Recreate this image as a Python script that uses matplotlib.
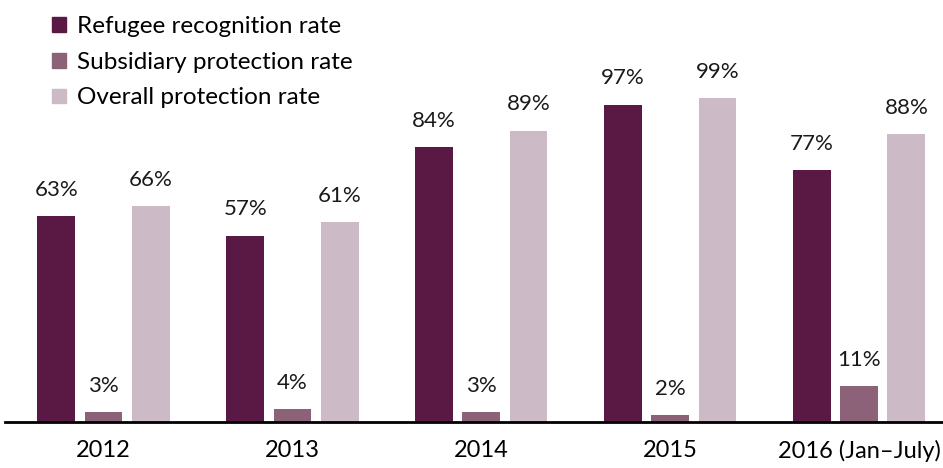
import matplotlib.pyplot as plt
import numpy as np
from matplotlib.patches import Patch

plt.rcParams["font.family"] = ["Lato", "DejaVu Sans"]

years = ["2012", "2013", "2014", "2015", "2016 (Jan\u2013July)"]
refugee = [63, 57, 84, 97, 77]
subsidiary = [3, 4, 3, 2, 11]
overall = [66, 61, 89, 99, 88]

series_names = ["Refugee recognition rate", "Subsidiary protection rate", "Overall protection rate"]
colors = ["#5A1944", "#8C6278", "#CCBAC6"]

fig = plt.figure(figsize=(9.43, 4.68), dpi=100)
ax = fig.add_axes([0, 46 / 468, 1, 422 / 468])

x = np.arange(len(years))
width = 0.2
offsets = [-0.25, 0, 0.25]

for vals, off, col in zip([refugee, subsidiary, overall], offsets, colors):
    bars = ax.bar(x + off, vals, width, color=col)
    for b, v in zip(bars, vals):
        ax.text(b.get_x() + b.get_width() / 2, v + 5.0, f"{v}%",
                ha="center", va="bottom", fontsize=16, color="#1a1a1a")

ax.set_xlim(-0.548, 4.444)
ax.set_ylim(0, 129)

ax.set_xticks(x)
ax.set_xticklabels(years, fontsize=17)
ax.tick_params(axis="x", length=0, pad=13)
ax.set_yticks([])

for s in ["top", "right", "left"]:
    ax.spines[s].set_visible(False)
ax.spines["bottom"].set_linewidth(2)
ax.spines["bottom"].set_color("black")
ax.spines["bottom"].set_bounds(-0.522, 4.444)

handles = [Patch(color=c, label=n) for c, n in zip(colors, series_names)]
ax.legend(handles=handles, loc="upper left", bbox_to_anchor=(0.04, 0.996),
          frameon=False, fontsize=17.5, handlelength=0.55, handleheight=0.55,
          handletextpad=0.45, labelspacing=0.6, borderaxespad=0.2)

fig.savefig("out.png", dpi=100)
